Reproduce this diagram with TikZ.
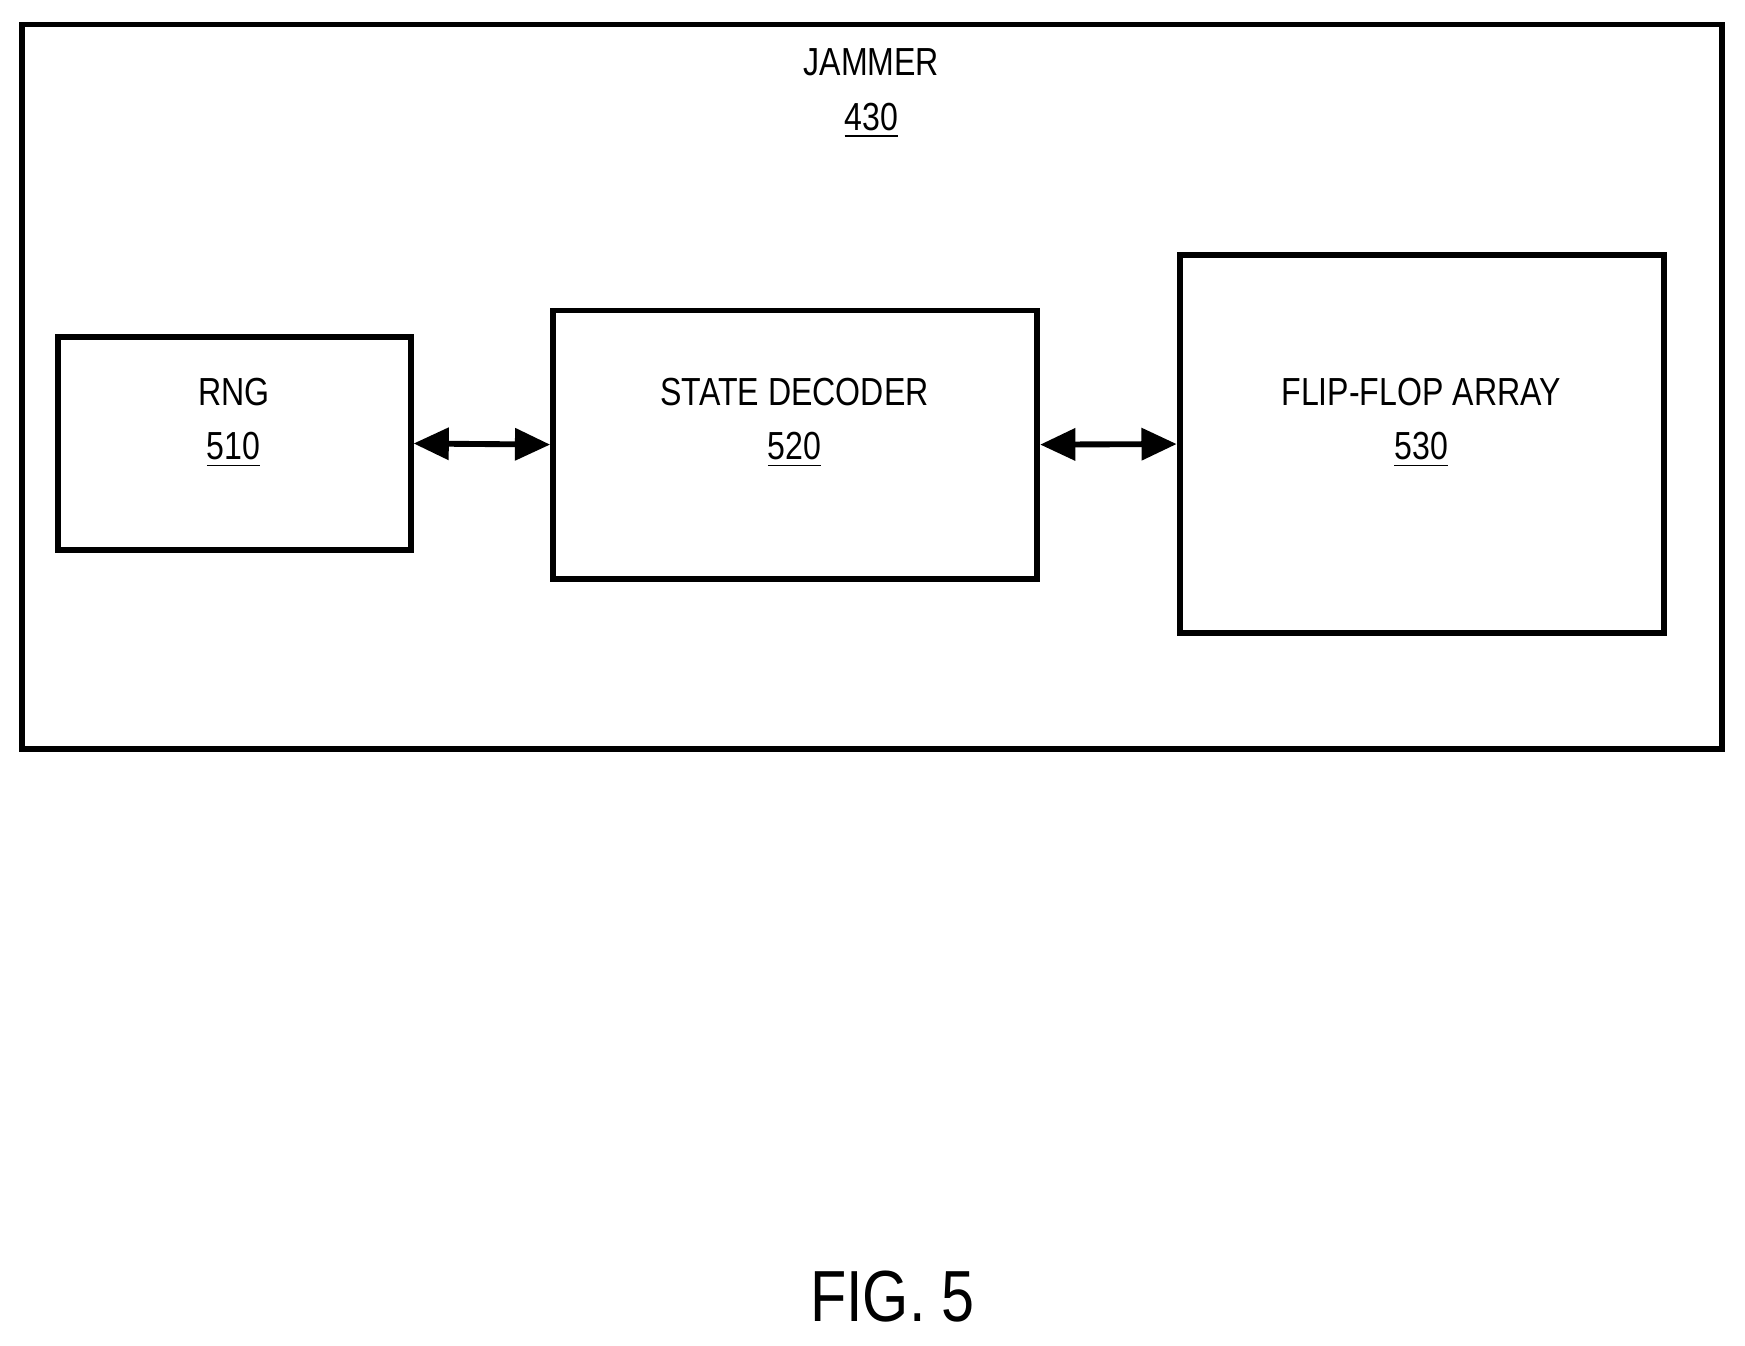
\documentclass[tikz,border=0pt]{standalone}
\usepackage{fontspec}
\setmainfont[FakeStretch=0.82]{Liberation Sans}
\usetikzlibrary{arrows.meta}

\begin{document}
\begin{tikzpicture}[x=0.01cm, y=-0.01cm, font=\fontsize{10}{14}\selectfont,
	blk/.style={draw=black, line width=1.5pt, inner sep=0pt},
	lbl/.style={align=center, inner sep=0pt}]
	
	\useasboundingbox (0, 0) rectangle (1568, 1209);
	
	\node[blk, minimum width=1527*0.01cm, minimum height=651*0.01cm] (jam) at (783.5, 347.5) {};
	\node[blk, minimum width=317*0.01cm, minimum height=191*0.01cm] (rng) at (210.5, 398.5) {};
	\node[blk, minimum width=435*0.01cm, minimum height=241*0.01cm] (dec) at (714.5, 399.5) {};
	\node[blk, minimum width=435*0.01cm, minimum height=340*0.01cm] (ffa) at (1277.5, 399) {};
	
	\node[lbl] (jamt) at (783, 84)    {JAMMER\\\underline{430}};
	\node[lbl] (rngt) at (210, 380)   {RNG\\\underline{510}};
	\node[lbl] (dect) at (714, 380)   {STATE DECODER\\\underline{520}};
	\node[lbl] (ffat) at (1277, 380)  {FLIP-FLOP ARRAY\\\underline{530}};
	\node[font=\fontsize{18.5}{22}\selectfont] (fig) at (802, 1165) {FIG. 5};
	
	\path[{Triangle[length=9pt,width=8pt]}-{Triangle[length=9pt,width=8pt]}, line width=1.5pt] (rng.east) edge (dec.west);
	\path[{Triangle[length=9pt,width=8pt]}-{Triangle[length=9pt,width=8pt]}, line width=1.5pt] (dec.east) edge (ffa.west);

\end{tikzpicture}
\end{document}
